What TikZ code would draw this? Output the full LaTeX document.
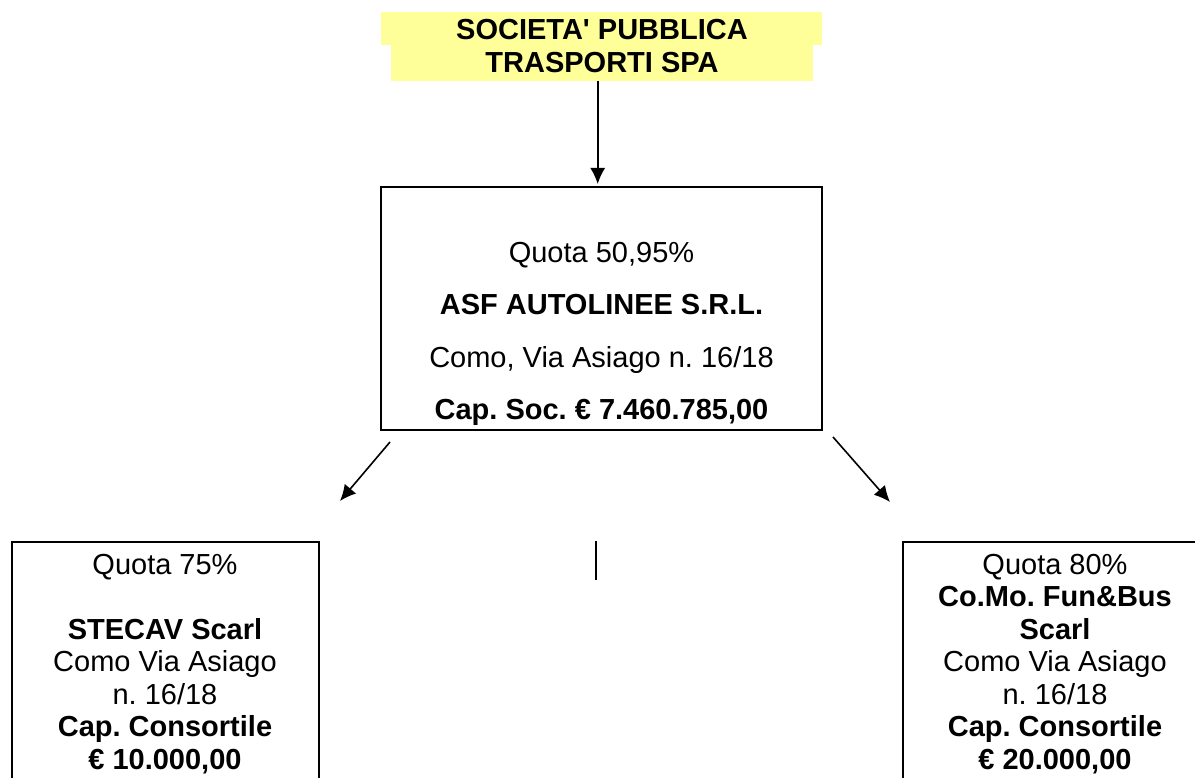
\documentclass[tikz,border=0pt]{standalone}
\usepackage{fontspec}
\setmainfont{Liberation Sans}
\usetikzlibrary{arrows.meta}
\definecolor{ylw}{RGB}{255,255,153}
\frenchspacing
\tikzset{
  band/.style={fill=ylw, draw=none, inner sep=0pt, outer sep=0pt},
  frame/.style={draw=black, line width=2pt, fill=none, inner sep=0pt, outer sep=0pt},
  txt/.style={align=center, inner sep=0pt, outer sep=0pt, text=black},
  arr/.style={line width=1.6pt, -{Latex[length=16pt,width=15pt]}},
  plain/.style={line width=1.6pt}
}
\begin{document}
\begin{tikzpicture}[x=1pt,y=-1pt]
\useasboundingbox (0,0) rectangle (1195,778);
\clip (0,0) rectangle (1195,778);
\fill[white] (0,0) rectangle (1195,778);
% top company
\node[band, minimum width=441pt, minimum height=33pt, anchor=north west] (band1) at (381,12) {};
\node[band, minimum width=422pt, minimum height=36pt, anchor=north west] (band2) at (391,45) {};
\node[txt, anchor=north, font={\fontsize{29}{33.5}\selectfont\bfseries}] (sps) at (602,19.2) {SOCIETA\textquotesingle{} PUBBLICA\\TRASPORTI SPA};
% middle box
\node[frame, minimum width=441pt, minimum height=243pt, anchor=north west] (asf) at (381,187) {};
\node[txt, anchor=north, font={\fontsize{29}{52.3}\selectfont}] (asftext) at (601.5,242.2)
  {Quota 50,95\%\\\textbf{ASF AUTOLINEE S.R.L.}\\Como, Via Asiago n. 16/18\\\textbf{Cap. Soc. € 7.460.785,00}};
\draw[arr] ([xshift=-4.3pt]band2.south) -- ([xshift=-3.8pt,yshift=3pt]asf.north);
% bottom boxes
\node[frame, minimum width=307pt, minimum height=300pt, anchor=north west] (stecav) at (12,542) {};
\node[frame, minimum width=305pt, minimum height=300pt, anchor=north west] (como) at (903,542) {};
\node[txt, anchor=north, font={\fontsize{29}{32.5}\selectfont}] (stecavtext) at (165,554.2)
  {Quota 75\%\\[32.5pt]\textbf{STECAV Scarl}\\Como Via Asiago\\n. 16/18\\\textbf{Cap. Consortile}\\\textbf{€ 10.000,00}};
\node[txt, anchor=north, font={\fontsize{29}{32.5}\selectfont}] (comotext) at (1055,554.2)
  {Quota 80\%\\\textbf{Co.Mo. Fun\&Bus}\\\textbf{Scarl}\\Como Via Asiago\\n. 16/18\\\textbf{Cap. Consortile}\\\textbf{€ 20.000,00}};
% connectors
\coordinate (ltip) at (340,501);
\coordinate (rtip) at (890,502);
\draw[arr] ([shift={(9,12)}]asf.south west) -- (ltip);
\draw[arr] ([shift={(11,7)}]asf.south east) -- (rtip);
\coordinate (v1) at (596,541);
\coordinate (v2) at (596,580);
\draw[plain] (v1) -- (v2);
\end{tikzpicture}
\end{document}
